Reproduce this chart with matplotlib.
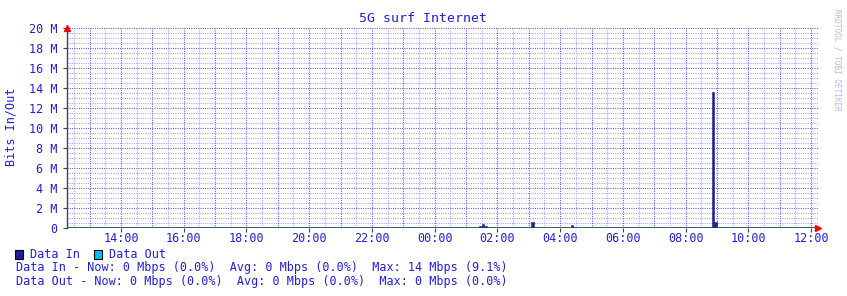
import matplotlib
matplotlib.use('Agg')
import matplotlib.pyplot as plt
import numpy as np

# data (5-minute samples, Mbps); times after midnight belong to the next day
sample_times = ['01:25', '01:30', '01:35', '03:05', '04:20', '08:50', '08:55']
data_in = [0.25, 0.4, 0.2, 0.6, 0.3, 13.6, 0.6]
data_out = [0, 0, 0, 0, 0, 0, 0]
tick_labels = ['14:00', '16:00', '18:00', '20:00', '22:00', '00:00',
               '02:00', '04:00', '06:00', '08:00', '10:00', '12:00']
ytick_vals = [0, 2, 4, 6, 8, 10, 12, 14, 16, 18, 20]
t_start, t_end = 12.28, 36.22


def to_hours(s):
    h, m = s.split(':')
    v = int(h) + int(m) / 60
    if v < 12.28:
        v += 24
    return v


txt_col = '#2020dd'
minor_col = '#a0a0ff'
major_col = '#5a5af5'
mono = 'DejaVu Sans Mono'
fs = 8.5

fig = plt.figure(figsize=(8.47, 2.96), dpi=100)
ax = fig.add_axes([67 / 847, 68 / 296, 751 / 847, 200 / 296])
ax.set_xlim(t_start, t_end)
ax.set_ylim(0, 20)

# grid
dot = (0, (1, 1.2))
for y in np.arange(0.5, 20.01, 0.5):
    major = abs(y % 2) < 1e-6
    ax.axhline(y, color=major_col if major else minor_col, lw=0.75, ls=dot, zorder=1)
for x in np.arange(12.5, t_end, 0.5):
    major = abs(x % 1) < 1e-6
    ax.axvline(x, color=major_col if major else minor_col, lw=0.75, ls=dot, zorder=1)

# bars
xs = [to_hours(t) for t in sample_times]
ax.bar(xs, data_in, width=1 / 12, align='edge', color='#1f1f99',
       edgecolor='#1f1f99', lw=0.4, zorder=3)
ax.bar(xs, data_out, width=1 / 12, align='edge', color='#00bfff', lw=0, zorder=3)
ax.axhline(0, color='#104060', lw=1.2, zorder=4)

for s in ['top', 'right', 'bottom']:
    ax.spines[s].set_visible(False)
ax.spines['left'].set_color('#404060')
ax.spines['left'].set_linewidth(1.0)

ax.set_xticks([to_hours(t) for t in tick_labels])
ax.set_xticklabels(tick_labels)
ax.set_yticks(ytick_vals)
ax.set_yticklabels([('%d M' % v) if v else '0' for v in ytick_vals])
ax.tick_params(axis='both', colors=txt_col, labelsize=fs, length=3, width=0.8)
ax.tick_params(axis='x', color='#404060', pad=0)
ax.tick_params(axis='y', color='#404060', pad=4)
for lab in ax.get_xticklabels() + ax.get_yticklabels():
    lab.set_fontfamily(mono)

# arrows
ax.plot([t_start], [20], marker='^', color='red', ms=4.5, clip_on=False, zorder=5)
ax.plot([t_end], [0], marker='>', color='red', ms=4.5, clip_on=False, zorder=5)

# texts
fig.text(423 / 847, 1 - 19 / 296, '5G surf Internet', ha='center', va='center',
         color=txt_col, fontsize=9.5, family=mono)
fig.text(11 / 847, 1 - 127 / 296, 'Bits In/Out', rotation=90, ha='center',
         va='center', color=txt_col, fontsize=fs, family=mono)
fig.text(837 / 847, 1 - 60 / 296, 'RRDTOOL / TOBI OETIKER', rotation=270,
         ha='center', va='center', color='#b8b8e8', fontsize=5.5, family=mono)

# legend
fig.patches.append(plt.Rectangle((15 / 847, 1 - 259 / 296), 8 / 847, 9 / 296,
                                 transform=fig.transFigure, facecolor='#1f1f99',
                                 edgecolor='black', lw=0.8))
fig.patches.append(plt.Rectangle((94 / 847, 1 - 259 / 296), 8 / 847, 9 / 296,
                                 transform=fig.transFigure, facecolor='#00bfff',
                                 edgecolor='black', lw=0.8))
fig.text(30 / 847, 1 - 254 / 296, 'Data In', va='center', color=txt_col,
         fontsize=fs, family=mono)
fig.text(109 / 847, 1 - 254 / 296, 'Data Out', va='center', color=txt_col,
         fontsize=fs, family=mono)
fig.text(16 / 847, 1 - 268 / 296,
         'Data In - Now: 0 Mbps (0.0%)  Avg: 0 Mbps (0.0%)  Max: 14 Mbps (9.1%)',
         va='center', color=txt_col, fontsize=fs, family=mono)
fig.text(16 / 847, 1 - 282 / 296,
         'Data Out - Now: 0 Mbps (0.0%)  Avg: 0 Mbps (0.0%)  Max: 0 Mbps (0.0%)',
         va='center', color=txt_col, fontsize=fs, family=mono)

fig.savefig('out.png', dpi=100, facecolor='white')
